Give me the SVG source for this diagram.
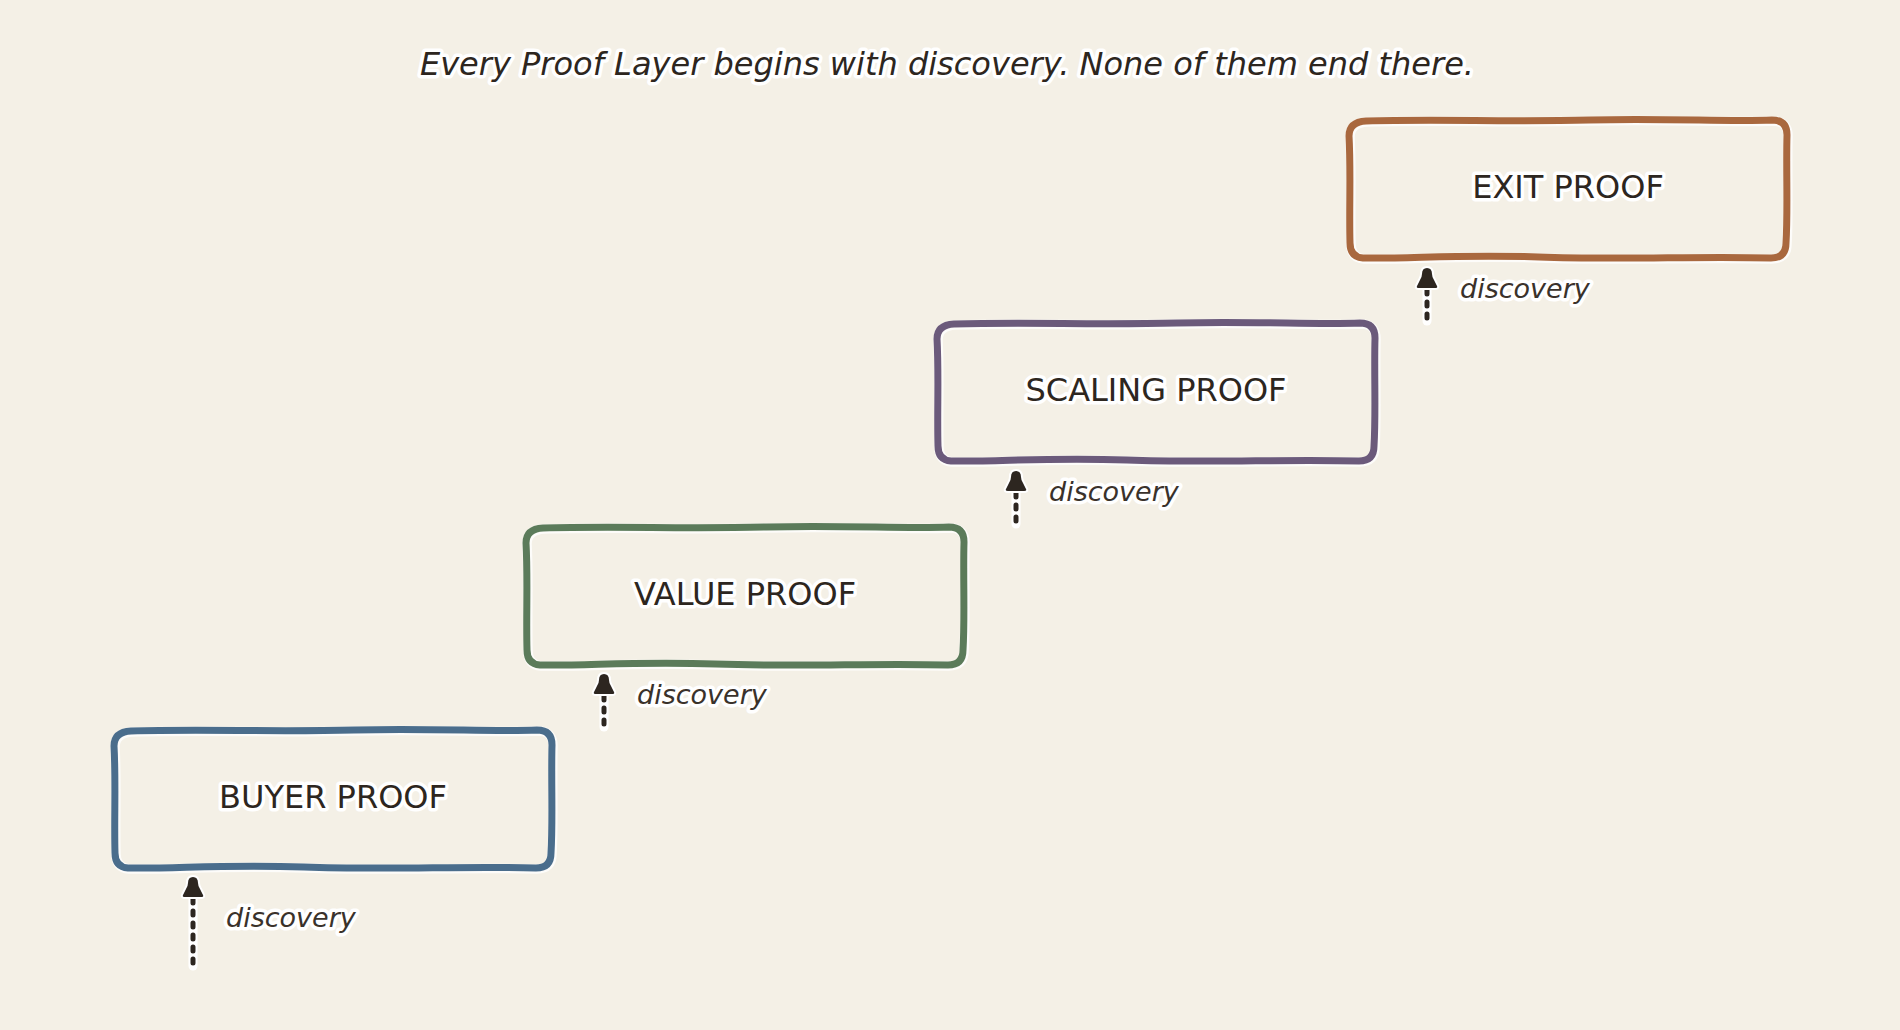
<svg xmlns="http://www.w3.org/2000/svg" xmlns:xlink="http://www.w3.org/1999/xlink" width="1900" height="1030" viewBox="0 0 1900 1030">
  <style>
    .bg { fill: #f4f0e6; }
    .box { fill: none; stroke-width: 7; stroke-linejoin: round; stroke-linecap: round; }
    .halo { fill: none; stroke: #ffffff; stroke-width: 9.5; stroke-linejoin: round; opacity: 0.8; }
    .label { font-family: "DejaVu Sans", "Liberation Sans", sans-serif; font-size: 32px; fill: #2d2620; text-anchor: middle; paint-order: stroke; stroke: #ffffff; stroke-width: 7px; stroke-linejoin: round; }
    .title { font-family: "DejaVu Sans", "Liberation Sans", sans-serif; font-style: italic; font-size: 32px; fill: #2d2620; text-anchor: middle; paint-order: stroke; stroke: #ffffff; stroke-width: 7px; stroke-linejoin: round; }
    .disc { font-family: "DejaVu Sans", "Liberation Sans", sans-serif; font-style: italic; font-size: 27px; fill: #3a322b; paint-order: stroke; stroke: #ffffff; stroke-width: 7px; stroke-linejoin: round; }
    .dash { fill: none; stroke: #2d2620; stroke-width: 5; stroke-linecap: round; stroke-dasharray: 4 8; }
    .dashhalo { fill: none; stroke: #ffffff; stroke-width: 9; stroke-linecap: round; }
    .head { fill: #2d2620; stroke: #ffffff; stroke-width: 4; paint-order: stroke; stroke-linejoin: round; }
    .blue { stroke: #4a6d8c; }
    .green { stroke: #5b7b5a; }
    .purple { stroke: #6b5a7b; }
    .orange { stroke: #a9683e; }
  </style>
  <defs>
    <path id="boxshape" d="M 17,2 C 90,0 160,3 240,1 S 380,3 423,1 Q 438,1 438,16 C 437,50 439,92 437,124 Q 437,139 422,139 C 350,137 270,141 190,138 S 60,140 14,139 Q 1,138 1,124 C 0,92 2,52 0,17 Q 0,3 17,2 Z"/>
    <path id="ah" d="M0,0 Q5,0 5,6 Q5,9 7,12 L10,18 Q11,20 8,20 L-8,20 Q-11,20 -10,18 L-7,12 Q-5,9 -5,6 Q-5,0 0,0 Z"/>
  </defs>
  <rect class="bg" x="0" y="0" width="1900" height="1030"/>

  <text class="title" x="947" y="75">Every Proof Layer begins with discovery. None of them end there.</text>

  <g id="node-buyer">
    <use href="#boxshape" x="115" y="730" class="halo"/>
    <use href="#boxshape" x="114" y="729" class="box blue"/>
    <text class="label" x="333" y="808">BUYER PROOF</text>
  </g>
  <g id="node-value">
    <use href="#boxshape" x="527" y="527" class="halo"/>
    <use href="#boxshape" x="526" y="526" class="box green"/>
    <text class="label" x="745" y="605">VALUE PROOF</text>
  </g>
  <g id="node-scaling">
    <use href="#boxshape" x="938" y="323" class="halo"/>
    <use href="#boxshape" x="937" y="322" class="box purple"/>
    <text class="label" x="1156" y="401">SCALING PROOF</text>
  </g>
  <g id="node-exit">
    <use href="#boxshape" x="1350" y="120" class="halo"/>
    <use href="#boxshape" x="1349" y="119" class="box orange"/>
    <text class="label" x="1568" y="198">EXIT PROOF</text>
  </g>

  <g id="connectors">
    <g id="arrow-buyer">
      <line class="dashhalo" x1="193" y1="898" x2="193" y2="966"/>
      <line class="dash" x1="193" y1="899" x2="193" y2="966"/>
      <use href="#ah" x="193" y="877" class="head"/>
      <text class="disc" x="226" y="927">discovery</text>
    </g>
    <g id="arrow-value">
      <line class="dashhalo" x1="604" y1="695" x2="604" y2="727"/>
      <line class="dash" x1="604" y1="696" x2="604" y2="727"/>
      <use href="#ah" x="604" y="674" class="head"/>
      <text class="disc" x="637" y="704">discovery</text>
    </g>
    <g id="arrow-scaling">
      <line class="dashhalo" x1="1016" y1="492" x2="1016" y2="524"/>
      <line class="dash" x1="1016" y1="493" x2="1016" y2="524"/>
      <use href="#ah" x="1016" y="471" class="head"/>
      <text class="disc" x="1049" y="501">discovery</text>
    </g>
    <g id="arrow-exit">
      <line class="dashhalo" x1="1427" y1="289" x2="1427" y2="321"/>
      <line class="dash" x1="1427" y1="290" x2="1427" y2="321"/>
      <use href="#ah" x="1427" y="268" class="head"/>
      <text class="disc" x="1460" y="298">discovery</text>
    </g>
  </g>
</svg>
